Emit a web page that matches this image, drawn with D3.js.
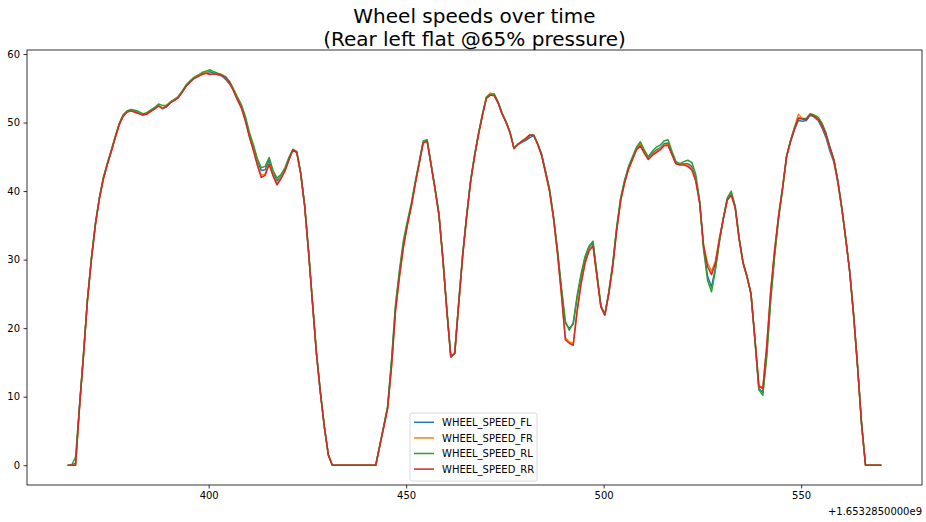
<!DOCTYPE html>
<html>
<head>
<meta charset="utf-8">
<script src="https://cdn.jsdelivr.net/npm/d3@7"></script>
<style>
	body { margin: 0; background: #fff; }
	svg { display: block; font-family: "DejaVu Sans", sans-serif; }
</style>
</head>
<body>
<svg id="chart"></svg>
<script>
const width = 926,
	height = 522,
	margin = {
		top: 50,
		right: 4,
		bottom: 37,
		left: 27
	};

// seconds after 1653285000 (shown as the axis offset)
const offsetLabel = '+1.6532850000e9';

const time = [
	364.3, 365.3, 366.3, 367.3, 368.3, 369.3, 370.3, 371.3, 372.3, 373.3,
	374.3, 375.3, 376.3, 377.3, 378.3, 379.3, 380.3, 381.3, 382.3, 383.3,
	384.3, 385.3, 386.3, 387.3, 388.3, 389.3, 390.3, 391.3, 392.3, 393.3,
	394.3, 395.3, 396.3, 397.3, 398.3, 399.3, 400.3, 401.3, 402.3, 403.3,
	404.3, 405.3, 406.3, 407.3, 408.3, 409.3, 410.3, 411.3, 412.3, 413.3,
	414.3, 415.3, 416.3, 417.3, 418.3, 419.3, 420.3, 421.3, 422.3, 423.3,
	424.3, 425.3, 426.3, 427.3, 428.3, 429.3, 430.3, 431.3, 432.3, 433.3,
	434.3, 435.3, 436.3, 437.3, 438.3, 439.3, 440.3, 441.3, 442.3, 443.3,
	444.3, 445.3, 446.3, 447.3, 448.3, 449.3, 450.3, 451.3, 452.3, 453.3,
	454.3, 455.3, 456.3, 457.3, 458.3, 459.3, 460.3, 461.3, 462.3, 463.3,
	464.3, 465.3, 466.3, 467.3, 468.3, 469.3, 470.3, 471.3, 472.3, 473.3,
	474.3, 475.3, 476.3, 477.3, 478.3, 479.3, 480.3, 481.3, 482.3, 483.3,
	484.3, 485.3, 486.3, 487.3, 488.3, 489.3, 490.3, 491.3, 492.3, 493.3,
	494.3, 495.3, 496.3, 497.3, 498.3, 499.3, 500.3, 501.3, 502.3, 503.3,
	504.3, 505.3, 506.3, 507.3, 508.3, 509.3, 510.3, 511.3, 512.3, 513.3,
	514.3, 515.3, 516.3, 517.3, 518.3, 519.3, 520.3, 521.3, 522.3, 523.3,
	524.3, 525.3, 526.3, 527.3, 528.3, 529.3, 530.3, 531.3, 532.3, 533.3,
	534.3, 535.3, 536.3, 537.3, 538.3, 539.3, 540.3, 541.3, 542.3, 543.3,
	544.3, 545.3, 546.3, 547.3, 548.3, 549.3, 550.3, 551.3, 552.3, 553.3,
	554.3, 555.3, 556.3, 557.3, 558.3, 559.3, 560.3, 561.3, 562.3, 563.3,
	564.3, 565.3, 566.3, 567.3, 568.3, 569.3, 570.3
];

const speedFL = [
	0, 0, 0.3, 8.6, 16.1, 24.1, 30.1, 35.1, 38.9, 41.8,
	43.9, 45.8, 47.8, 49.7, 51.0, 51.6, 51.8, 51.6, 51.4, 51.1,
	51.3, 51.7, 52.0, 52.5, 52.0, 52.3, 52.9, 53.3, 53.7, 54.5,
	55.4, 56.0, 56.5, 56.8, 57.1, 57.3, 57.4, 57.2, 57.0, 56.8,
	56.3, 55.6, 54.7, 53.4, 52.3, 50.5, 48.2, 46.4, 44.4, 43.0,
	43.1, 44.5, 42.7, 41.5, 42.1, 43.1, 44.7, 46.0, 45.7, 42.6,
	37.9, 31.1, 23.6, 16.2, 10.5, 5.5, 1.5, 0, 0, 0,
	0, 0, 0, 0, 0, 0, 0, 0, 0, 2.8,
	5.6, 8.4, 15.0, 23.0, 28.0, 32.3, 35.3, 38.0, 41.2, 44.1,
	47.1, 47.4, 43.9, 40.4, 36.6, 30.1, 22.6, 15.8, 16.3, 23.6,
	30.6, 36.3, 41.4, 45.1, 48.3, 51.1, 53.6, 54.0, 54.0, 52.9,
	51.3, 50.1, 48.6, 46.2, 46.8, 47.1, 47.4, 47.8, 48.1, 46.9,
	45.3, 42.8, 40.2, 36.2, 31.3, 25.6, 20.8, 19.9, 20.6, 24.5,
	27.6, 30.2, 31.8, 32.5, 27.8, 23.2, 22.0, 25.2, 29.2, 34.5,
	38.8, 41.4, 43.4, 44.8, 46.2, 46.9, 45.8, 44.8, 45.5, 46.0,
	46.3, 46.9, 47.0, 45.5, 44.1, 43.9, 44.0, 44.0, 43.6, 42.0,
	38.4, 31.8, 27.6, 26.0, 28.8, 32.7, 36.0, 38.8, 39.7, 37.7,
	33.1, 29.5, 27.5, 25.0, 18.3, 11.2, 10.6, 16.5, 24.6, 31.0,
	36.2, 40.4, 45.0, 47.2, 49.0, 50.3, 50.2, 50.3, 51.1, 50.8,
	50.3, 49.2, 47.8, 45.8, 44.2, 41.2, 37.4, 33.0, 28.2, 21.8,
	14.3, 6.0, 0, 0, 0, 0, 0
];

const speedFR = [
	0, 0, 0, 8.5, 16, 24, 30, 35, 38.8, 41.7,
	43.8, 45.7, 47.7, 49.6, 50.9, 51.6, 51.8, 51.5, 51.3, 51.2,
	51.4, 51.8, 52.1, 52.5, 52.1, 52.4, 53.0, 53.3, 53.7, 54.5,
	55.4, 56.0, 56.6, 56.9, 57.2, 57.3, 57.1, 57.1, 57.0, 56.9,
	56.5, 55.8, 54.6, 53.3, 52.1, 50.3, 48.0, 46.1, 44.0, 42.3,
	42.5, 44.0, 42.3, 41.1, 42.0, 43.0, 44.6, 46.0, 45.6, 42.5,
	37.8, 31.0, 23.5, 16.2, 10.5, 5.5, 1.5, 0, 0, 0,
	0, 0, 0, 0, 0, 0, 0, 0, 0, 2.8,
	5.5, 8.3, 14.5, 22.6, 27.6, 31.9, 35.1, 37.8, 41.1, 44.1,
	47.1, 47.4, 43.9, 40.3, 36.5, 30.0, 22.5, 15.8, 16.4, 23.5,
	30.5, 36.2, 41.3, 45.0, 48.3, 51.1, 53.7, 54.3, 54.0, 52.9,
	51.3, 50.0, 48.5, 46.2, 46.8, 47.3, 47.7, 48.2, 48.2, 46.8,
	45.2, 42.6, 40.0, 36.0, 31.0, 25.0, 18.6, 18.0, 17.8, 22.7,
	26.7, 29.6, 31.4, 32.1, 27.6, 23.1, 21.9, 25.0, 29.0, 34.3,
	38.6, 41.2, 43.2, 44.6, 46.1, 46.8, 45.6, 44.7, 45.3, 45.8,
	46.2, 46.7, 46.8, 45.3, 44.0, 43.9, 43.9, 43.8, 43.3, 41.7,
	38.3, 32.1, 29.5, 28.3, 29.8, 33.1, 36.0, 38.7, 39.5, 37.6,
	33.0, 29.5, 27.5, 25.0, 18.5, 11.6, 11.3, 17.4, 25.4, 31.4,
	36.4, 40.5, 45.0, 47.3, 49.3, 51.2, 50.6, 50.5, 51.2, 50.9,
	50.5, 49.6, 48.2, 46.3, 44.5, 41.4, 37.5, 33.0, 28.2, 21.8,
	14.3, 6.0, 0, 0, 0, 0, 0
];

const speedRL = [
	0, 0, 1.2, 8.8, 16.3, 24.2, 30.2, 35.2, 39.0, 41.9,
	44.0, 45.9, 47.9, 49.8, 51.1, 51.7, 51.9, 51.8, 51.6, 51.3,
	51.4, 51.8, 52.2, 52.7, 52.5, 52.5, 53.0, 53.4, 53.8, 54.6,
	55.5, 56.1, 56.6, 56.9, 57.3, 57.5, 57.7, 57.4, 57.2, 57.0,
	56.7, 56.0, 54.9, 53.7, 52.6, 50.9, 48.6, 46.8, 44.8, 43.4,
	43.6, 44.9, 43.0, 41.9, 42.4, 43.4, 44.9, 46.1, 45.8, 42.7,
	38.0, 31.2, 23.7, 16.3, 10.6, 5.6, 1.5, 0, 0, 0,
	0, 0, 0, 0, 0, 0, 0, 0, 0, 2.9,
	5.7, 8.6, 15.5, 23.5, 28.5, 32.8, 35.6, 38.2, 41.4, 44.3,
	47.3, 47.5, 44.0, 40.5, 36.7, 30.2, 22.8, 15.9, 16.4, 23.8,
	30.8, 36.4, 41.5, 45.2, 48.4, 51.2, 53.7, 54.1, 54.2, 53.0,
	51.4, 50.1, 48.6, 46.3, 46.9, 47.2, 47.5, 48.1, 48.2, 46.9,
	45.4, 42.9, 40.3, 36.4, 31.5, 26.0, 21.0, 19.7, 20.8, 24.8,
	28.0, 30.5, 32.0, 32.7, 28.0, 23.3, 22.0, 25.3, 29.5, 34.8,
	39.0, 41.6, 43.6, 45.0, 46.4, 47.2, 46.0, 45.0, 45.8, 46.4,
	46.7, 47.3, 47.5, 45.8, 44.3, 44.0, 44.3, 44.5, 44.2, 42.5,
	38.6, 31.5, 27.0, 25.3, 28.5, 32.5, 36.0, 39.0, 40.0, 37.8,
	33.2, 29.6, 27.6, 25.1, 18.2, 11.0, 10.2, 15.8, 24.0, 30.5,
	36.0, 40.3, 45.1, 47.4, 49.2, 50.7, 50.6, 50.6, 51.3, 51.1,
	50.8, 49.9, 48.5, 46.4, 44.6, 41.5, 37.6, 33.1, 28.3, 21.9,
	14.4, 6.1, 0, 0, 0, 0, 0
];

const speedRR = [
	0, 0, 0, 8.5, 16, 24, 30, 35, 38.8, 41.7,
	43.8, 45.7, 47.7, 49.6, 50.9, 51.5, 51.7, 51.5, 51.3, 51.1,
	51.2, 51.6, 52.0, 52.4, 52.1, 52.3, 52.9, 53.2, 53.6, 54.4,
	55.3, 55.9, 56.4, 56.7, 57.0, 57.2, 57.0, 57.1, 57.0, 56.9,
	56.5, 55.8, 54.6, 53.3, 52.1, 50.2, 47.9, 46.0, 43.8, 42.0,
	42.3, 43.9, 42.2, 40.9, 41.8, 42.9, 44.5, 46.0, 45.6, 42.5,
	37.8, 31.0, 23.5, 16.2, 10.5, 5.5, 1.5, 0, 0, 0,
	0, 0, 0, 0, 0, 0, 0, 0, 0, 2.8,
	5.5, 8.3, 14.4, 22.5, 27.5, 31.8, 35.0, 37.7, 41.0, 44.0,
	47.0, 47.3, 43.8, 40.3, 36.5, 30.0, 22.5, 15.8, 16.3, 23.5,
	30.5, 36.2, 41.3, 45.0, 48.2, 51.0, 53.5, 54.0, 53.9, 52.8,
	51.2, 50.0, 48.5, 46.2, 46.8, 47.3, 47.7, 48.2, 48.1, 46.8,
	45.2, 42.6, 40.0, 36.0, 31.0, 25.0, 18.3, 17.8, 17.5, 22.5,
	26.5, 29.5, 31.3, 32.0, 27.5, 23.1, 21.9, 25.0, 29.0, 34.3,
	38.6, 41.2, 43.2, 44.6, 46.0, 46.6, 45.5, 44.6, 45.2, 45.6,
	46.0, 46.6, 46.7, 45.3, 44.0, 43.8, 43.8, 43.6, 43.1, 41.5,
	38.3, 32.0, 29.0, 27.8, 29.5, 33.0, 36.0, 38.7, 39.4, 37.6,
	33.0, 29.5, 27.5, 25.0, 18.5, 11.5, 11.2, 17.5, 25.5, 31.5,
	36.5, 40.5, 45.0, 47.2, 49.0, 50.6, 50.5, 50.4, 51.2, 50.9,
	50.5, 49.6, 48.2, 46.3, 44.5, 41.4, 37.5, 33.0, 28.2, 21.8,
	14.3, 6.0, 0, 0, 0, 0, 0
];

const seriesNames = ['WHEEL_SPEED_FL', 'WHEEL_SPEED_FR', 'WHEEL_SPEED_RL', 'WHEEL_SPEED_RR'];
const seriesValues = [speedFL, speedFR, speedRL, speedRR];
const seriesColors = ['#1f77b4', '#ff7f0e', '#2ca02c', '#d62728'];

const xTicks = [400, 450, 500, 550];
const yTicks = [0, 10, 20, 30, 40, 50, 60];
const titleLines = ['Wheel speeds over time', '(Rear left flat @65% pressure)'];

const series = seriesNames.map((name, i) => ({
	name: name,
	color: seriesColors[i],
	points: time.map((t, j) => [t, seriesValues[i][j]])
}));

const plotW = width - margin.left - margin.right,
	plotH = height - margin.top - margin.bottom;

// matplotlib style 5% margins around the data
const padded = ext => {
	const d = (ext[1] - ext[0]) * 0.05;
	return [ext[0] - d, ext[1] + d];
};

const x = d3.scaleLinear()
	.domain(padded(d3.extent(time)))
	.range([0, plotW]);

const y = d3.scaleLinear()
	.domain(padded([d3.min(seriesValues, s => d3.min(s)), d3.max(seriesValues, s => d3.max(s))]))
	.range([plotH, 0]);

const svg = d3.select('#chart')
	.attr('width', width)
	.attr('height', height);

svg.append('rect')
	.attr('width', width)
	.attr('height', height)
	.attr('fill', '#fff');

const g = svg.append('g')
	.attr('transform', `translate(${margin.left},${margin.top})`);

g.append('clipPath').attr('id', 'plotClip')
	.append('rect')
	.attr('width', plotW)
	.attr('height', plotH);

const line = d3.line()
	.x(d => x(d[0]))
	.y(d => y(d[1]));

g.append('g')
	.attr('clip-path', 'url(#plotClip)')
	.selectAll('path')
	.data(series)
	.join('path')
	.attr('d', d => line(d.points))
	.attr('fill', 'none')
	.attr('stroke', d => d.color)
	.attr('stroke-width', 1.5)
	.attr('stroke-linejoin', 'round');

// axes
const xAxis = g.append('g')
	.attr('transform', `translate(0,${plotH})`)
	.call(d3.axisBottom(x).tickValues(xTicks).tickFormat(d3.format('d')).tickSize(3.5).tickPadding(3.5));

const yAxis = g.append('g')
	.call(d3.axisLeft(y).tickValues(yTicks).tickFormat(d3.format('d')).tickSize(3.5).tickPadding(3.5));

[xAxis, yAxis].forEach(ax => {
	ax.attr('font-family', null).attr('font-size', null);
	ax.select('.domain').remove();
	ax.selectAll('.tick line').attr('stroke', '#000').attr('stroke-width', 0.8);
	ax.selectAll('.tick text').attr('fill', '#000').style('font-size', '10px');
});

// frame
g.append('rect')
	.attr('width', plotW)
	.attr('height', plotH)
	.attr('fill', 'none')
	.attr('stroke', '#000')
	.attr('stroke-width', 0.8);

g.append('text')
	.attr('x', plotW)
	.attr('y', plotH + 30)
	.attr('text-anchor', 'end')
	.style('font-size', '10px')
	.text(offsetLabel);

// title
svg.append('text')
	.attr('x', margin.left + plotW / 2)
	.attr('text-anchor', 'middle')
	.style('font-size', '20px')
	.selectAll('tspan')
	.data(titleLines)
	.join('tspan')
	.attr('x', margin.left + plotW / 2)
	.attr('y', (d, i) => 23 + i * 23)
	.text(d => d);

// legend
const legend = g.append('g')
	.attr('transform', 'translate(383,363)');

legend.append('rect')
	.attr('width', 127)
	.attr('height', 68)
	.attr('rx', 2)
	.attr('fill', '#fff')
	.attr('fill-opacity', 0.8)
	.attr('stroke', '#d0d0d0')
	.attr('stroke-width', 0.8);

const item = legend.selectAll('g.item')
	.data(series)
	.join('g')
	.attr('class', 'item')
	.attr('transform', (d, i) => `translate(0,${9.3 + i * 15.6})`);

item.append('line')
	.attr('x1', 4)
	.attr('x2', 24)
	.attr('stroke', d => d.color)
	.attr('stroke-width', 1.5);

item.append('text')
	.attr('x', 32)
	.attr('dy', '0.36em')
	.style('font-size', '10px')
	.text(d => d.name);
</script>
</body>
</html>
